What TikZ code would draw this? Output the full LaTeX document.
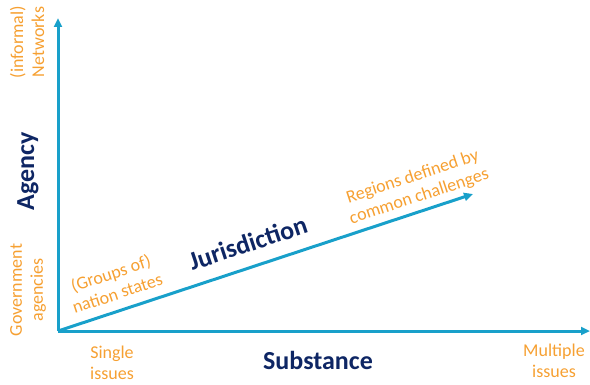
\documentclass[tikz,border=0pt]{standalone}
\usepackage{fontspec}
\setmainfont{Carlito}
\usetikzlibrary{arrows.meta}
\definecolor{axisblue}{RGB}{24,160,202}
\definecolor{lblorange}{RGB}{246,160,50}
\definecolor{navy}{RGB}{14,38,100}
\tikzset{
  axis/.style={draw=axisblue, line width=3pt, -{Triangle[length=9pt,width=8pt]}},
  orangelbl/.style={text=lblorange, font=\fontsize{18}{21}\selectfont, align=center, inner sep=0pt},
  navylbl/.style={text=navy, font=\fontsize{26}{30}\selectfont\bfseries, inner sep=0pt},
}
\begin{document}
\begin{tikzpicture}[x=1pt,y=1pt]
\useasboundingbox (0,0) rectangle (590,384);
\coordinate (O) at (58,53);
\coordinate (ytip) at (58,366);
\coordinate (xtip) at (590,53);
\coordinate (dtip) at (473,190);
\draw[axis] (O) -- (ytip);
\draw[axis] (O) -- (xtip);
\draw[axis] (O) -- (dtip);
\node[orangelbl, rotate=90] (net) at (27,342) {(informal)\\Networks};
\node[navylbl, rotate=90] (agency) at (28,213) {Agency};
\node[orangelbl, rotate=90] (gov) at (28,94) {Government\\agencies};
\node[orangelbl, rotate=18.3] (groups) at (114,101) {(Groups of)\\nation states};
\node[navylbl, rotate=18.3] (juris) at (248,141) {Jurisdiction};
\node[orangelbl, rotate=18.3] (regions) at (416,197) {Regions defined by\\common challenges};
\node[orangelbl] (single) at (112,21) {Single\\issues};
\node[navylbl] (subst) at (318,24) {Substance};
\node[orangelbl] (multi) at (554,23) {Multiple\\issues};
\end{tikzpicture}
\end{document}
